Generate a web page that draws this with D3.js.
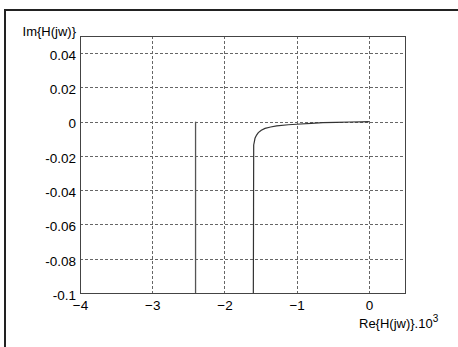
<!DOCTYPE html>
<html><head><meta charset="utf-8">
<script src="https://cdn.jsdelivr.net/npm/d3@7"></script>
<style>body{margin:0;background:#fff}svg{display:block}</style>
</head><body>
<svg id="c" width="458" height="347"></svg>
<script>
const xTicks = [-4, -3, -2, -1, 0];
const yTicks = [-0.1, -0.08, -0.06, -0.04, -0.02, 0, 0.02, 0.04];
const yTickLabels = ["-0.1", "-0.08", "-0.06", "-0.04", "-0.02", "0", "0.02", "0.04"];
const xDomain = [-4, 0.5];
const yDomain = [-0.1, 0.05];
// vertical segment at Re = -2.4
const lineA_re = [-2.4, -2.4];
const lineA_im = [0, -0.1];
// Nyquist curve
const curve_re = [-1.6, -1.597, -1.595, -1.585, -1.577, -1.555, -1.531, -1.49, -1.438, -1.36, -1.277, -1.116, -1.0, -0.8, -0.636, -0.45, -0.26, -0.1, 0];
const curve_im = [-0.1, -0.05, -0.0136, -0.0115, -0.0097, -0.0078, -0.0064, -0.0050, -0.0039, -0.0031, -0.0025, -0.0018, -0.0015, -0.0010, -0.0006, -0.0004, -0.0002, -0.0001, 0];

const svg = d3.select("#c");
const L = 80, R = 405, T = 36, B = 293;
const x = d3.scaleLinear().domain(xDomain).range([L, R]);
const y = d3.scaleLinear().domain(yDomain).range([B, T]);
const font = "Liberation Sans, Arial, sans-serif";

// outer frame
svg.append("path").attr("d", `M5,347 L5,10 L458,10`).attr("fill", "none").attr("stroke", "#222").attr("stroke-width", 2);

// grid
const g = svg.append("g");
g.selectAll(".gx").data(xTicks.filter(v => v > xDomain[0])).join("line")
  .attr("x1", d => Math.round(x(d)) + 0.5).attr("x2", d => Math.round(x(d)) + 0.5)
  .attr("y1", T).attr("y2", B)
  .attr("stroke", "#666").attr("stroke-dasharray", "3,2");
g.selectAll(".gy").data(yTicks.filter(v => v > yDomain[0])).join("line")
  .attr("y1", d => Math.round(y(d)) + 0.5).attr("y2", d => Math.round(y(d)) + 0.5)
  .attr("x1", L).attr("x2", R)
  .attr("stroke", "#666").attr("stroke-dasharray", "3,2");

// axes box
svg.append("rect").attr("x", L + 0.5).attr("y", T + 0.5).attr("width", R - L).attr("height", B - T)
  .attr("fill", "none").attr("stroke", "#444");

// tick labels via d3 axes
const xAxis = d3.axisBottom(x).tickValues(xTicks).tickSize(0).tickPadding(0).tickFormat(d3.format("d"));
const gx = svg.append("g").attr("transform", `translate(0,${B})`).call(xAxis);
gx.select(".domain").remove();
gx.selectAll("text").attr("font-family", font).attr("font-size", 13.5).attr("fill", "#000")
  .attr("dy", null).attr("y", 17);

const yAxis = d3.axisLeft(y).tickValues(yTicks).tickSize(0).tickPadding(4).tickFormat((d, i) => yTickLabels[i]);
const gy = svg.append("g").attr("transform", `translate(${L},2)`).call(yAxis);
gy.select(".domain").remove();
gy.selectAll("text").attr("font-family", font).attr("font-size", 13.5).attr("fill", "#000");

// data lines
const line = d3.line().x(d => x(d[0])).y(d => y(d[1]));
svg.append("path").datum(lineA_re.map((v, i) => [v, lineA_im[i]]))
  .attr("d", line).attr("fill", "none").attr("stroke", "#555").attr("stroke-width", 1.3);
svg.append("path").datum(curve_re.map((v, i) => [v, curve_im[i]]))
  .attr("d", line).attr("fill", "none").attr("stroke", "#333").attr("stroke-width", 1.2);

// axis titles
svg.append("text").attr("x", 76).attr("y", 36).attr("text-anchor", "end")
  .attr("font-family", font).attr("font-size", 13).text("Im{H(jw)}");
const xt = svg.append("text").attr("x", 359).attr("y", 328)
  .attr("font-family", font).attr("font-size", 13);
xt.append("tspan").text("Re{H(jw)}.10");
xt.append("tspan").attr("dy", -6).attr("font-size", 10).text("3");
</script>
</body></html>
